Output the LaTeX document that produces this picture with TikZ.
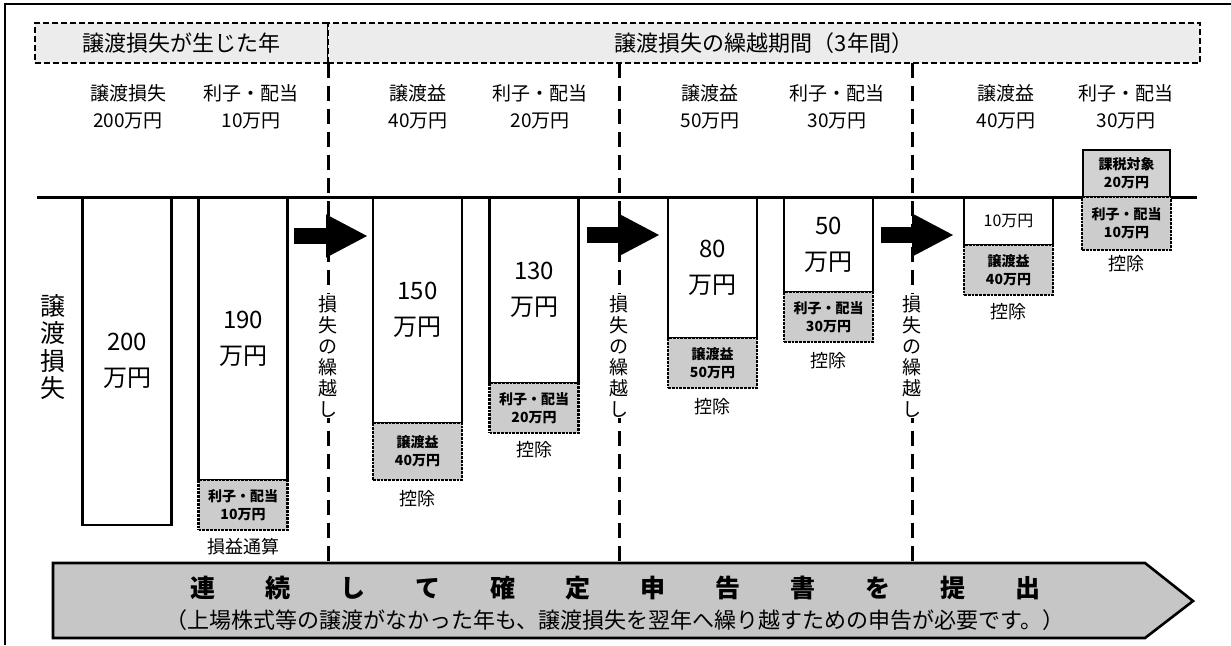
\documentclass[tikz,border=0pt]{standalone}
\usepackage{fontspec}
\setmainfont{Noto Sans CJK JP}
\usetikzlibrary{arrows.meta,positioning}

\begin{document}
\begin{tikzpicture}[x=1pt,y=-1pt,
  bar/.style={draw,line width=2.2pt,fill=white,anchor=north,outer sep=0pt,
    minimum width=89pt,inner sep=0pt,align=center,
    font=\fontsize{24}{36}\selectfont},
  dedbox/.style={draw,densely dotted,line width=2.8pt,fill=gray!40,outer sep=0pt,
    minimum width=89pt,minimum height=50pt,inner sep=0pt,align=center,
    font=\bfseries\fontsize{14}{18}\selectfont},
  taxbox/.style={draw,line width=2.4pt,fill=gray!35,outer sep=0pt,
    minimum width=87pt,minimum height=47pt,inner sep=0pt,align=center,
    font=\bfseries\fontsize{14}{18}\selectfont},
  colhead/.style={align=center,font=\fontsize{19}{27}\selectfont},
  note/.style={font=\fontsize{18}{20}\selectfont,inner sep=2pt},
  hdrcell/.style={draw,line width=1.8pt,dash pattern=on 6pt off 3pt,fill=gray!15,
    outer sep=0pt,minimum height=40pt,anchor=north west,
    font=\fontsize{22}{24}\selectfont},
  vtext/.style={align=center,fill=white,inner sep=1pt},
  yearsep/.style={line width=3pt,dash pattern=on 15pt off 8pt},
  carry/.style={line width=16pt,-{Triangle[length=42pt,width=40pt]}},
  flowbox/.style={draw,line width=2.6pt,fill=gray!45}
]
  \useasboundingbox (0,0) rectangle (1231,645);
  \draw[line width=2pt] (5,645) -- (5,4) -- (1231,4);

  % header
  \node[hdrcell,minimum width=293pt] (hdrL) at (35,23) {譲渡損失が生じた年};
  \node[hdrcell,minimum width=872pt,right=0pt of hdrL] (hdrR)
    {譲渡損失の繰越期間（3年間）};

  % year borders
  \draw[yearsep] (hdrL.south east) -- (328,563);
  \draw[yearsep] (619,63) -- (619,563);
  \draw[yearsep] (912,63) -- (912,563);
  \node[vtext,font=\fontsize{19}{21}\selectfont] (keep1) at (328,356)
    {損\\失\\の\\繰\\越\\し};
  \node[vtext,font=\fontsize{19}{21}\selectfont] (keep2) at (619,356)
    {損\\失\\の\\繰\\越\\し};
  \node[vtext,font=\fontsize{19}{21}\selectfont] (keep3) at (912,356)
    {損\\失\\の\\繰\\越\\し};

  % column heads
  \node[colhead] (hA) at (128,107) {譲渡損失\\200万円};
  \node[colhead] (hB) at (251,107) {利子・配当\\10万円};
  \node[colhead] (hC) at (418,107) {譲渡益\\40万円};
  \node[colhead] (hD) at (540,107) {利子・配当\\20万円};
  \node[colhead] (hE) at (710,107) {譲渡益\\50万円};
  \node[colhead] (hF) at (837,107) {利子・配当\\30万円};
  \node[colhead] (hG) at (1006,107) {譲渡益\\40万円};
  \node[colhead] (hH) at (1126,107) {利子・配当\\30万円};

  \node[align=center,font=\fontsize{25}{27.5}\selectfont] (lossv) at (53,347)
    {譲\\渡\\損\\失};

  % loss bars
  \node[bar,minimum height=328pt] (barA) at (127,197) {200\\万円};
  \node[bar,minimum height=283pt] (barB) at (243,197) {190\\万円};
  \node[bar,minimum height=226pt] (barC) at (417.5,197) {150\\万円};
  \node[bar,minimum height=186pt] (barD) at (534,197) {130\\万円};
  \node[bar,minimum height=141pt] (barE) at (712.5,197) {80\\万円};
  \node[bar,minimum height=95pt] (barF) at (828.5,197) {50\\万円};
  \node[bar,minimum height=48pt,font=\fontsize{16}{18}\selectfont] (barG)
    at (1008.5,197) {10万円};
  \node[taxbox,anchor=south] (taxH) at (1126.5,197) {課税対象\\20万円};

  \draw[line width=3pt] (37,197) -- (1197,197);

  % deducted parts
  \node[dedbox,below=0pt of barB] (dedB) {利子・配当\\10万円};
  \node[dedbox,below=0pt of barC,minimum height=57pt] (dedC) {譲渡益\\40万円};
  \node[dedbox,below=0pt of barD] (dedD) {利子・配当\\20万円};
  \node[dedbox,below=0pt of barE] (dedE) {譲渡益\\50万円};
  \node[dedbox,below=0pt of barF] (dedF) {利子・配当\\30万円};
  \node[dedbox,below=0pt of barG] (dedG) {譲渡益\\40万円};
  \node[dedbox,below=0pt of taxH,minimum height=53pt] (dedH) {利子・配当\\10万円};

  \node[note,below=6pt of dedB] (sumB) {損益通算};
  \node[note,below=8pt of dedC] (subC) {控除};
  \node[note,below=6pt of dedD] (subD) {控除};
  \node[note,below=8pt of dedE] (subE) {控除};
  \node[note,below=8pt of dedF] (subF) {控除};
  \node[note,below=6pt of dedG] (subG) {控除};
  \node[note,below=3pt of dedH] (subH) {控除};

  % carry-over arrows
  \coordinate (go1) at (294,236);
  \coordinate (go2) at (587,235);
  \coordinate (go3) at (881,235);
  \draw[carry] (go1) -- ([xshift=-5pt]barC.west |- go1);
  \draw[carry] (go2) -- ([xshift=-8pt]barE.west |- go2);
  \draw[carry] (go3) -- ([xshift=-10pt]barG.west |- go3);

  % filing every year
  \draw[flowbox] (53,563) -- (1145,563) -- (1193,601) -- (1145,638)
    -- (53,638) -- cycle;
  \node[font=\bfseries\fontsize{25}{27}\selectfont] (file1) at (615,588)
    {連　　続　　し　　て　　確　　定　　申　　告　　書　　を　　提　　出};
  \node[font=\fontsize{22}{24}\selectfont] (file2) at (615,620)
    {（上場株式等の譲渡がなかった年も、譲渡損失を翌年へ繰り越すための申告が必要です。）};
\end{tikzpicture}
\end{document}
